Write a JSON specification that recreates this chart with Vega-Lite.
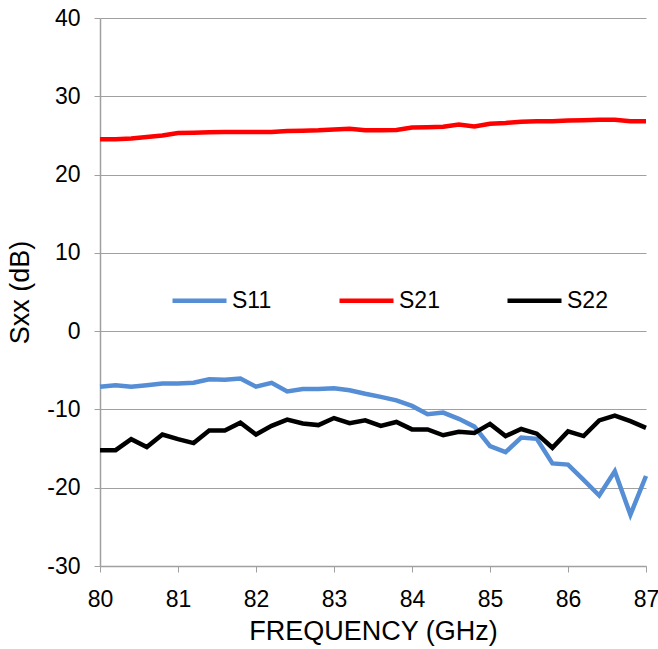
{
  "$schema": "https://vega.github.io/schema/vega-lite/v6.json",
  "width": 546,
  "height": 548,
  "autosize": {"type": "none"},
  "padding": {"left": 100, "top": 18, "right": 12, "bottom": 83},
  "background": "white",
  "config": {
    "font": "Liberation Sans",
    "view": {"stroke": null}
  },
  "data": {
    "values": [
      {"f": 80.0, "S11": -7.1, "S21": 24.5, "S22": -15.2},
      {"f": 80.2, "S11": -6.9, "S21": 24.5, "S22": -15.2},
      {"f": 80.4, "S11": -7.1, "S21": 24.6, "S22": -13.8},
      {"f": 80.6, "S11": -6.9, "S21": 24.8, "S22": -14.8},
      {"f": 80.8, "S11": -6.7, "S21": 25.0, "S22": -13.2},
      {"f": 81.0, "S11": -6.7, "S21": 25.3, "S22": -13.8},
      {"f": 81.2, "S11": -6.6, "S21": 25.35, "S22": -14.3},
      {"f": 81.4, "S11": -6.15, "S21": 25.4, "S22": -12.7},
      {"f": 81.6, "S11": -6.2, "S21": 25.45, "S22": -12.7},
      {"f": 81.8, "S11": -6.05, "S21": 25.45, "S22": -11.7},
      {"f": 82.0, "S11": -7.1, "S21": 25.45, "S22": -13.2},
      {"f": 82.2, "S11": -6.6, "S21": 25.45, "S22": -12.1},
      {"f": 82.4, "S11": -7.7, "S21": 25.55, "S22": -11.3},
      {"f": 82.6, "S11": -7.4, "S21": 25.6, "S22": -11.8},
      {"f": 82.8, "S11": -7.4, "S21": 25.65, "S22": -12.0},
      {"f": 83.0, "S11": -7.3, "S21": 25.75, "S22": -11.1},
      {"f": 83.2, "S11": -7.55, "S21": 25.85, "S22": -11.75},
      {"f": 83.4, "S11": -8.0, "S21": 25.65, "S22": -11.4},
      {"f": 83.6, "S11": -8.4, "S21": 25.65, "S22": -12.1},
      {"f": 83.8, "S11": -8.85, "S21": 25.7, "S22": -11.6},
      {"f": 84.0, "S11": -9.55, "S21": 26.0, "S22": -12.55},
      {"f": 84.2, "S11": -10.6, "S21": 26.05, "S22": -12.55},
      {"f": 84.4, "S11": -10.4, "S21": 26.1, "S22": -13.3},
      {"f": 84.6, "S11": -11.2, "S21": 26.4, "S22": -12.85},
      {"f": 84.8, "S11": -12.2, "S21": 26.15, "S22": -13.0},
      {"f": 85.0, "S11": -14.7, "S21": 26.5, "S22": -11.85},
      {"f": 85.2, "S11": -15.45, "S21": 26.6, "S22": -13.4},
      {"f": 85.4, "S11": -13.6, "S21": 26.75, "S22": -12.5},
      {"f": 85.6, "S11": -13.75, "S21": 26.8, "S22": -13.1},
      {"f": 85.8, "S11": -16.9, "S21": 26.8, "S22": -14.9},
      {"f": 86.0, "S11": -17.05, "S21": 26.9, "S22": -12.8},
      {"f": 86.2, "S11": -19.0, "S21": 26.95, "S22": -13.4},
      {"f": 86.4, "S11": -21.0, "S21": 27.0, "S22": -11.4},
      {"f": 86.6, "S11": -17.9, "S21": 27.0, "S22": -10.8},
      {"f": 86.8, "S11": -23.45, "S21": 26.8, "S22": -11.5},
      {"f": 87.0, "S11": -18.5, "S21": 26.8, "S22": -12.35}
    ]
  },
  "transform": [
    {"fold": ["S11", "S21", "S22"], "as": ["param", "sxx"]}
  ],
  "mark": {"type": "line", "strokeWidth": 4.5, "strokeJoin": "miter", "strokeCap": "butt"},
  "encoding": {
    "x": {
      "field": "f",
      "type": "quantitative",
      "scale": {"domain": [80, 87], "nice": false, "zero": false},
      "axis": {
        "title": "FREQUENCY (GHz)",
        "values": [80, 81, 82, 83, 84, 85, 86, 87],
        "grid": false,
        "labelFlush": false,
        "labelOverlap": false,
        "domainColor": "#A0A0A0",
        "domainWidth": 1.5,
        "tickColor": "#A0A0A0",
        "tickSize": 6,
        "labelFont": "Liberation Sans",
        "labelFontSize": 23,
        "labelColor": "#000000",
        "labelPadding": 16,
        "titleFont": "Liberation Sans",
        "titleFontSize": 27,
        "titleFontWeight": "normal",
        "titleColor": "#000000",
        "titlePadding": 7
      }
    },
    "y": {
      "field": "sxx",
      "type": "quantitative",
      "scale": {"domain": [-30, 40], "nice": false, "zero": false},
      "axis": {
        "title": "Sxx (dB)",
        "values": [-30, -20, -10, 0, 10, 20, 30, 40],
        "labelExpr": "(datum.value < 0 ? '-' : '') + abs(datum.value)",
        "grid": true,
        "gridColor": "#A0A0A0",
        "gridWidth": 1.2,
        "domainColor": "#A0A0A0",
        "domainWidth": 1.5,
        "tickColor": "#A0A0A0",
        "tickSize": 6,
        "labelFlush": false,
        "labelOverlap": false,
        "labelFont": "Liberation Sans",
        "labelFontSize": 23,
        "labelColor": "#000000",
        "labelPadding": 14,
        "titleFont": "Liberation Sans",
        "titleFontSize": 27,
        "titleFontWeight": "normal",
        "titleColor": "#000000",
        "titlePadding": 12
      }
    },
    "color": {
      "field": "param",
      "type": "nominal",
      "scale": {"domain": ["S11", "S21", "S22"], "range": ["#558ED5", "#FF0000", "#000000"]},
      "legend": {
        "title": null,
        "orient": "none",
        "direction": "horizontal",
        "legendX": 70,
        "legendY": 253,
        "symbolType": "stroke",
        "symbolSize": 2916,
        "symbolStrokeWidth": 4.5,
        "labelFont": "Liberation Sans",
        "labelFontSize": 23,
        "labelColor": "#000000",
        "labelOffset": 3,
        "columnPadding": 58
      }
    }
  }
}
